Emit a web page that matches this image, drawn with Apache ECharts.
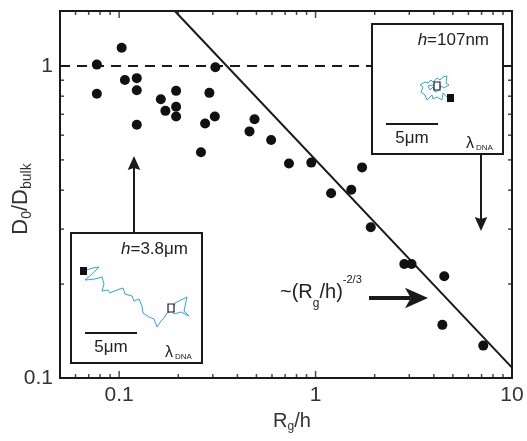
<!DOCTYPE html>
<html>
<head>
<meta charset="utf-8">
<script src="https://cdn.jsdelivr.net/npm/echarts@6/dist/echarts.min.js"></script>
<style>
  html, body { margin: 0; padding: 0; background: #fff; }
  #chart { width: 527px; height: 441px; }
</style>
</head>
<body>
<div id="chart"></div>
<script>
// measured points (Rg/h, D0/Dbulk)
const rgOverH = [0.077, 0.077, 0.103, 0.107, 0.123, 0.123, 0.123, 0.163, 0.172, 0.195,
  0.195, 0.195, 0.309, 0.288, 0.274, 0.307, 0.261, 0.489, 0.461, 0.594,
  0.732, 0.951, 1.725, 1.20, 1.52, 1.91, 2.83, 3.08, 4.52, 4.42, 7.14];
const dRatio = [1.01, 0.815, 1.144, 0.902, 0.914, 0.836, 0.648, 0.782, 0.718, 0.832,
  0.740, 0.689, 0.99, 0.820, 0.654, 0.689, 0.529, 0.675, 0.617, 0.579,
  0.487, 0.490, 0.473, 0.391, 0.401, 0.304, 0.232, 0.232, 0.212, 0.148, 0.127];

// ~(Rg/h)^-2/3 guide line, end points
const fitLine = [[0.192, 1.5], [10, 0.108]];
const bulkLine = [[0.05, 1], [10, 1]];

const xMajor = [0.1, 1, 10];
const xMinor = [0.06, 0.07, 0.08, 0.09, 0.2, 0.3, 0.4, 0.5, 0.6, 0.7, 0.8, 0.9,
  2, 3, 4, 5, 6, 7, 8, 9];
const yMajor = [0.1, 1];
const yMinor = [0.2, 0.3, 0.4, 0.5, 0.6, 0.7, 0.8, 0.9];

// random walks drawn in the two insets (px inside a 131x130 box)
const walkWide = [[12, 38], [22, 35], [28, 34], [21, 41], [14, 47], [24, 46], [31, 44],
  [33, 51], [31, 58], [37, 57], [39, 60], [46, 57], [52, 55], [54, 61], [61, 63],
  [63, 68], [68, 66], [71, 73], [72, 80], [78, 84], [83, 86], [86, 94], [90, 88],
  [93, 85], [96, 80], [101, 78], [104, 70], [110, 67], [116, 64], [113, 78],
  [118, 83], [110, 79], [103, 81], [100, 75]];
const walkNarrow = [[75, 73], [71, 69], [70, 76], [65, 73], [61, 75], [60, 71],
  [55, 76], [53, 71], [49, 68], [51, 63], [48, 61], [53, 58], [56, 59], [59, 56],
  [61, 58], [65, 54], [68, 56], [71, 53], [75, 52], [74, 59], [77, 61], [72, 64],
  [69, 62], [67, 66], [63, 68], [61, 63], [58, 66], [56, 62], [61, 61], [65, 62]];

const FONT = "'Liberation Sans', Arial, sans-serif";
const INK = '#1a1a1a';
const X_MIN = 0.05, X_MAX = 10, Y_MIN = 0.1, Y_MAX = 1.5;

function logAxis(min, max, position) {
  return {
    type: 'log',
    logBase: 10,
    min: min,
    max: max,
    position: position,
    axisLine: { show: false },
    axisTick: { show: false },
    axisLabel: {
      show: true, customValues: position === 'bottom' ? xMajor : yMajor,
      margin: 7, color: '#333', fontSize: 21, fontFamily: FONT,
      formatter: (v) => String(Number(Number(v).toPrecision(4)))
    },
    splitLine: { show: false },
    minorTick: { show: false }
  };
}

// tick marks drawn inside the frame as thin rect symbols
function tickSeries(points, size, offset) {
  return {
    type: 'scatter', symbol: 'rect', symbolSize: size, symbolOffset: offset,
    data: points, clip: false, silent: true, z: 4,
    itemStyle: { color: INK }
  };
}

function inset(left, top, label, walk, startSq, endSq) {
  const txt = (text, x, y, size, align) => ({
    type: 'text', z: 102, x: x, y: y,
    style: { text: text, fontSize: size, fontFamily: FONT, fill: '#222',
      align: align, verticalAlign: 'middle', textAlign: align, textVerticalAlign: 'middle' }
  });
  return {
    type: 'group', x: left, y: top, z: 100,
    children: [
      { type: 'rect', z: 100, shape: { x: 0, y: 0, width: 131, height: 130 },
        style: { fill: '#fff', stroke: INK, lineWidth: 2 } },
      { type: 'polyline', z: 101, shape: { points: walk },
        style: { stroke: '#2aa9e6', lineWidth: 1, fill: null } },
      { type: 'rect', z: 102, shape: { x: startSq[0] - 3, y: startSq[1] - 4, width: 7, height: 8 },
        style: { fill: '#111' } },
      { type: 'rect', z: 102, shape: { x: endSq[0] - 3, y: endSq[1] - 4, width: 6, height: 8 },
        style: { fill: '#fff', stroke: INK, lineWidth: 1.2 } },
      { type: 'text', z: 102, x: 117, y: 16,
        style: { text: '{i|h}{n|=' + label + '}', align: 'right', verticalAlign: 'middle',
          textAlign: 'right', textVerticalAlign: 'middle',
          rich: { i: { fontStyle: 'italic', fontSize: 17, fontFamily: FONT, fill: '#222' },
                  n: { fontSize: 17, fontFamily: FONT, fill: '#222' } } } },
      { type: 'line', z: 102, shape: { x1: 14, y1: 100, x2: 66, y2: 100 },
        style: { stroke: INK, lineWidth: 2 } },
      txt('5μm', 40, 114, 17, 'center'),
      txt('λ', 94, 120, 16, 'left'),
      txt('DNA', 104, 124, 8, 'left')
    ]
  };
}

function arrow(x1, y1, x2, y2, width, head, back) {
  const a = Math.atan2(y2 - y1, x2 - x1);
  const c = Math.cos(a), s = Math.sin(a);
  const bx = x2 - c * head, by = y2 - s * head;
  const nx = x2 - c * head * back, ny = y2 - s * head * back;
  const hw = head * 0.45;
  return [
    { type: 'line', z: 90, shape: { x1: x1, y1: y1, x2: nx, y2: ny },
      style: { stroke: INK, lineWidth: width } },
    { type: 'polygon', z: 90,
      shape: { points: [[x2, y2], [bx - s * hw, by + c * hw], [nx, ny], [bx + s * hw, by - c * hw]] },
      style: { fill: INK } }
  ];
}

const chart = echarts.init(document.getElementById('chart'), null, { renderer: 'canvas' });

const nameRich = {
  m: { fontSize: 20, fontFamily: FONT, color: '#333', fill: '#333', lineHeight: 24 },
  s: { fontSize: 12, fontFamily: FONT, color: '#333', fill: '#333', lineHeight: 10, verticalAlign: 'bottom' }
};
const yNameRich = {
  m: { fontSize: 22, fontFamily: FONT, fill: '#333', lineHeight: 26 },
  s: { fontSize: 14, fontFamily: FONT, fill: '#333', lineHeight: 12, verticalAlign: 'bottom' }
};

const xMain = logAxis(X_MIN, X_MAX, 'bottom');
xMain.name = '{m|R}{s|g}{m|/h}';
xMain.nameLocation = 'middle';
xMain.nameGap = 31;
xMain.nameTextStyle = { rich: nameRich, padding: [0, 0, 0, 12] };

const yMain = logAxis(Y_MIN, Y_MAX, 'left');

chart.setOption({
  animation: false,
  backgroundColor: '#fff',
  grid: {
    left: 60, right: 15, top: 11, bottom: 63, containLabel: false, outerBoundsMode: 'none',
    show: true, borderColor: INK, borderWidth: 2, backgroundColor: 'transparent'
  },
  xAxis: xMain,
  yAxis: yMain,
  series: [
    {
      type: 'line', data: bulkLine, showSymbol: false, silent: true, z: 1,
      lineStyle: { color: INK, width: 2, type: [10, 7] }
    },
    {
      type: 'line', data: fitLine, showSymbol: false, silent: true, z: 2,
      lineStyle: { color: INK, width: 2 }
    },
    {
      type: 'scatter', symbol: 'circle', symbolSize: 10, z: 3,
      data: rgOverH.map((x, i) => [x, dRatio[i]]),
      itemStyle: { color: '#111', opacity: 1 }
    },
    tickSeries(xMajor.map((v) => [v, Y_MIN]), [1.5, 7], [0, -3.5]),
    tickSeries(xMinor.map((v) => [v, Y_MIN]), [1.5, 4], [0, -2]),
    tickSeries(xMajor.map((v) => [v, Y_MAX]), [1.5, 7], [0, 3.5]),
    tickSeries(xMinor.map((v) => [v, Y_MAX]), [1.5, 4], [0, 2]),
    tickSeries(yMajor.map((v) => [X_MIN, v]), [7, 1.5], [3.5, 0]),
    tickSeries(yMinor.map((v) => [X_MIN, v]), [4, 1.5], [2, 0]),
    tickSeries(yMajor.map((v) => [X_MAX, v]), [7, 1.5], [-3.5, 0]),
    tickSeries(yMinor.map((v) => [X_MAX, v]), [4, 1.5], [-2, 0])
  ],
  graphic: [
    inset(71, 233, '3.8μm', walkWide, [12, 38], [100, 75]),
    inset(372, 24, '107nm', walkNarrow, [78, 74], [65, 62]),
    ...arrow(134, 232, 134, 156, 2, 14, 0.85),
    ...arrow(481, 154, 481, 231, 2, 14, 0.85),
    ...arrow(369, 298, 428, 298, 4, 23, 0.75),
    {
      // y axis title, rotated to read bottom-to-top
      type: 'text', z: 90, x: 21, y: 199, rotation: Math.PI / 2,
      style: {
        text: '{m|D}{s|0}{m|/D}{s|bulk}',
        align: 'center', verticalAlign: 'middle', textAlign: 'center', textVerticalAlign: 'middle',
        rich: yNameRich
      }
    },
    {
      type: 'text', z: 90, x: 280, y: 292,
      style: {
        text: '{m|~(R}{s|g}{m|/h)}{p|-2/3}',
        align: 'left', verticalAlign: 'middle', textAlign: 'left', textVerticalAlign: 'middle',
        rich: {
          m: { fontSize: 20, fontFamily: FONT, fill: '#222', lineHeight: 36 },
          s: { fontSize: 12, fontFamily: FONT, fill: '#222', lineHeight: 22, verticalAlign: 'bottom' },
          p: { fontSize: 11, fontFamily: FONT, fill: '#222', lineHeight: 10, verticalAlign: 'top' }
        }
      }
    }
  ]
});
</script>
</body>
</html>
